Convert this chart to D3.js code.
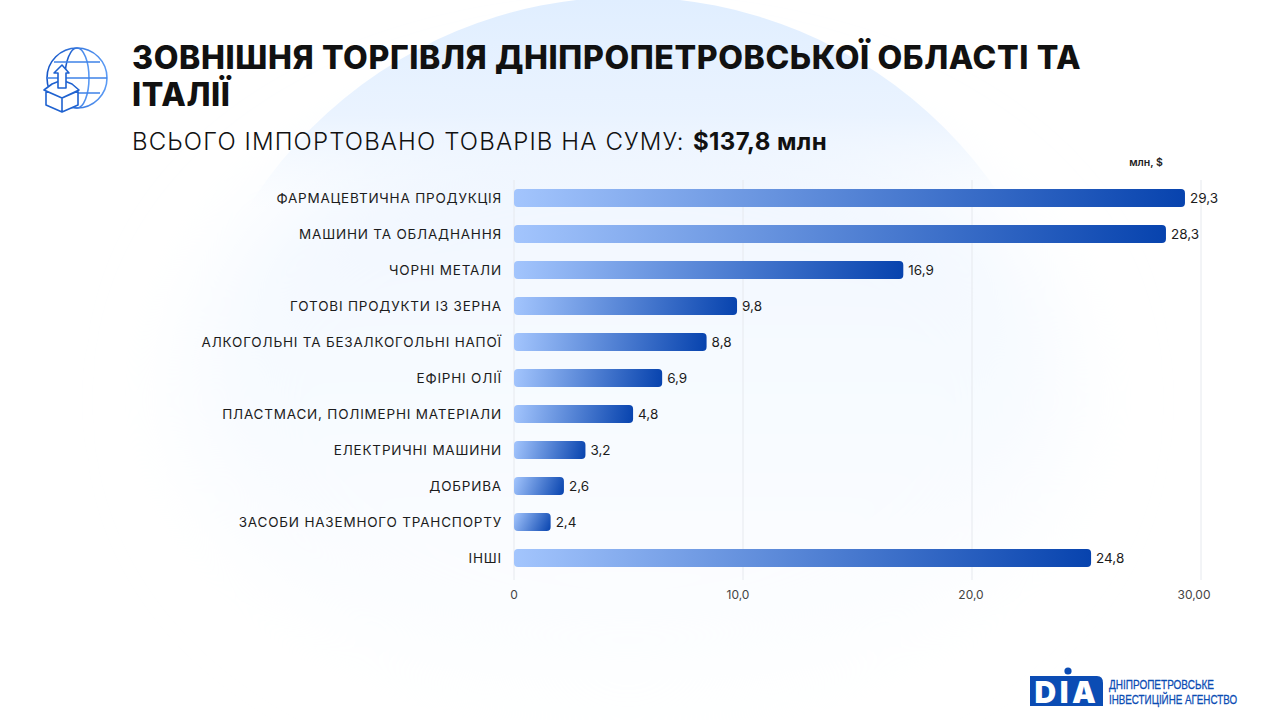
<!DOCTYPE html>
<html lang="uk">
<head>
  <meta charset="UTF-8">
  <title>Зовнішня торгівля</title>
  <script src="https://d3js.org/d3.v7.min.js"></script>
  <style>
    html, body { margin: 0; padding: 0; background: #fff; }
    svg { display: block; font-family: Inter, "Open Sans", sans-serif; }
  </style>
</head>
<body>
<div id="chart"></div>
<script>
  const categories = [
    "ФАРМАЦЕВТИЧНА ПРОДУКЦІЯ", "МАШИНИ ТА ОБЛАДНАННЯ", "ЧОРНІ МЕТАЛИ",
    "ГОТОВІ ПРОДУКТИ ІЗ ЗЕРНА", "АЛКОГОЛЬНІ ТА БЕЗАЛКОГОЛЬНІ НАПОЇ", "ЕФІРНІ ОЛІЇ",
    "ПЛАСТМАСИ, ПОЛІМЕРНІ МАТЕРІАЛИ", "ЕЛЕКТРИЧНІ МАШИНИ", "ДОБРИВА",
    "ЗАСОБИ НАЗЕМНОГО ТРАНСПОРТУ", "ІНШІ"
  ];
  // bar lengths; in the reference they differ a bit from the printed labels
  const barLengths = [29.3, 28.47, 17.0, 9.74, 8.41, 6.47, 5.2, 3.12, 2.18, 1.6, 25.2];
  const valueLabels = ["29,3", "28,3", "16,9", "9,8", "8,8", "6,9", "4,8", "3,2", "2,6", "2,4", "24,8"];
  const tickValues = [0, 10, 20, 30];
  const tickLabels = ["0", "10,0", "20,0", "30,00"];

  const svg = d3.select("#chart").append("svg")
    .attr("width", 1280).attr("height", 720);
  const defs = svg.append("defs");

  // background blob: soft wide glow plus a crisp top that fades out going down
  const blur = defs.append("filter").attr("id", "soft")
    .attr("x", "-30%").attr("y", "-30%").attr("width", "160%").attr("height", "160%");
  blur.append("feGaussianBlur").attr("stdDeviation", 45);
  const bg = defs.append("linearGradient").attr("id", "bg")
    .attr("gradientUnits", "userSpaceOnUse")
    .attr("x1", 0).attr("y1", 0).attr("x2", 0).attr("y2", 210);
  bg.append("stop").attr("offset", "0").attr("stop-color", "#e0eeff").attr("stop-opacity", 1);
  bg.append("stop").attr("offset", "0.55").attr("stop-color", "#e8f2ff").attr("stop-opacity", 0.9);
  bg.append("stop").attr("offset", "1").attr("stop-color", "#f1f7ff").attr("stop-opacity", 0);
  const glow = defs.append("linearGradient").attr("id", "glow")
    .attr("gradientUnits", "userSpaceOnUse")
    .attr("x1", 0).attr("y1", 100).attr("x2", 0).attr("y2", 680);
  glow.append("stop").attr("offset", "0").attr("stop-color", "#eef5ff");
  glow.append("stop").attr("offset", "0.45").attr("stop-color", "#f6faff");
  glow.append("stop").attr("offset", "1").attr("stop-color", "#fdfeff");
  svg.append("ellipse").attr("cx", 628).attr("cy", 400).attr("rx", 440).attr("ry", 300)
    .attr("fill", "url(#glow)").attr("filter", "url(#soft)");
  svg.append("circle").attr("cx", 628).attr("cy", 445).attr("r", 448)
    .attr("fill", "url(#bg)");

  const x = d3.scaleLinear().domain([0, 30]).range([514, 1201]);
  const y = d3.scaleBand().domain(categories).range([180, 576])
    .paddingInner(0.5).paddingOuter(0.25);

  // gridlines
  svg.append("g").selectAll("line").data(tickValues).join("line")
    .attr("x1", d => x(d)).attr("x2", d => x(d))
    .attr("y1", 180).attr("y2", 580)
    .attr("stroke", "#e6e9ee").attr("stroke-width", 1);

  // one gradient per bar, tilted so short bars show the diagonal like the reference
  categories.forEach((c, i) => {
    const g = defs.append("linearGradient").attr("id", "bar" + i)
      .attr("gradientUnits", "userSpaceOnUse")
      .attr("x1", x(0)).attr("y1", y(c))
      .attr("x2", x(barLengths[i])).attr("y2", y(c) + y.bandwidth());
    g.append("stop").attr("offset", "0").attr("stop-color", "#a3c5fd");
    g.append("stop").attr("offset", "1").attr("stop-color", "#0743ae");
  });

  svg.append("g").selectAll("rect").data(barLengths).join("rect")
    .attr("x", x(0))
    .attr("y", (d, i) => y(categories[i]))
    .attr("width", d => x(d) - x(0))
    .attr("height", y.bandwidth())
    .attr("rx", 4)
    .attr("fill", (d, i) => `url(#bar${i})`);

  svg.append("g").selectAll("text").data(barLengths).join("text")
    .attr("x", d => x(d) + 5)
    .attr("y", (d, i) => y(categories[i]) + y.bandwidth() / 2)
    .attr("dy", "0.35em")
    .attr("font-size", 13.5).attr("fill", "#1c1c1c")
    .text((d, i) => valueLabels[i]);

  svg.append("g").selectAll("text").data(categories).join("text")
    .attr("x", 502)
    .attr("y", d => y(d) + y.bandwidth() / 2)
    .attr("dy", "0.35em")
    .attr("text-anchor", "end")
    .attr("font-size", 13.5).attr("letter-spacing", 0.8).attr("fill", "#1c1c1c")
    .text(d => d);

  // the labels in the reference are not quite centred on their gridlines
  const tickNudge = [0, -5, -1, -7];
  svg.append("g").selectAll("text").data(tickValues).join("text")
    .attr("x", (d, i) => x(d) + tickNudge[i])
    .attr("y", 599)
    .attr("text-anchor", "middle")
    .attr("font-size", 12).attr("fill", "#444")
    .text((d, i) => tickLabels[i]);

  svg.append("text").attr("x", 1146).attr("y", 166).attr("text-anchor", "middle")
    .attr("font-size", 10.5).attr("font-weight", 600).attr("fill", "#222").text("млн, $");

  // headings
  const title = svg.append("g").attr("font-weight", 800).attr("font-size", 32)
    .attr("letter-spacing", 0.62).attr("fill", "#111");
  title.append("text").attr("x", 132).attr("y", 69).text("ЗОВНІШНЯ ТОРГІВЛЯ ДНІПРОПЕТРОВСЬКОЇ ОБЛАСТІ ТА");
  title.append("text").attr("x", 132).attr("y", 106).text("ІТАЛІЇ");

  svg.append("text").attr("x", 132).attr("y", 150)
    .attr("font-size", 24).attr("font-weight", 300).attr("letter-spacing", 1.12).attr("fill", "#111")
    .text("ВСЬОГО ІМПОРТОВАНО ТОВАРІВ НА СУМУ:");
  svg.append("text").attr("x", 693).attr("y", 150)
    .attr("font-size", 24).attr("font-weight", 700).attr("letter-spacing", 0.4).attr("fill", "#111")
    .text("$137,8 млн");

  // globe and box icon
  const iconGrad = defs.append("linearGradient").attr("id", "icon");
  iconGrad.append("stop").attr("offset", "0").attr("stop-color", "#1657c8");
  iconGrad.append("stop").attr("offset", "1").attr("stop-color", "#5b9bf5");
  const icon = svg.append("g").attr("fill", "none").attr("stroke", "url(#icon)")
    .attr("stroke-width", 1.6).attr("stroke-linejoin", "round");
  icon.append("circle").attr("cx", 77).attr("cy", 78).attr("r", 30);
  icon.append("ellipse").attr("cx", 77).attr("cy", 78).attr("rx", 12).attr("ry", 30);
  icon.append("path").attr("stroke", "#3f82e8").attr("d", "M54 62 H100 M47 78 H107 M54 93 H100");
  // box, filled white so the globe does not show through
  const boxStroke = "#1f62d0";
  icon.append("path").attr("fill", "#fff").attr("stroke", boxStroke)
    .attr("d", "M44 90 L52 84 L62 80 L72 84 L79 90 L62 98 Z M46 91 V105 L62 112 L78 105 V91 L62 98 L46 91 M62 98 V112");
  icon.append("path").attr("fill", "#fff").attr("stroke", boxStroke)
    .attr("d", "M62 65 L69 73 H66 V88 H58 V73 H54 Z");

  // logo
  const logo = svg.append("g");
  logo.append("path").attr("fill", "#0b4cb4")
    .attr("d", "M1030 676 H1097 Q1103 676 1103 683 V706 H1030 Z");
  logo.append("circle").attr("cx", 1068).attr("cy", 671).attr("r", 3.6).attr("fill", "#0b4cb4");
  logo.append("text").attr("x", 1067).attr("y", 703).attr("text-anchor", "middle")
    .attr("font-size", 30).attr("font-weight", 900).attr("fill", "#fff").attr("letter-spacing", 3.5)
    .text("DIA");
  // squeeze the two narrow lines to their measured widths
  [["ДНІПРОПЕТРОВСЬКЕ", 688.5, 105], ["ІНВЕСТИЦІЙНЕ АГЕНСТВО", 704, 128]].forEach(([s, yy, w]) => {
    const t = logo.append("text")
      .attr("font-family", "'Liberation Sans Narrow', 'Liberation Sans'")
      .attr("font-size", 13.4).attr("fill", "#0b4cb4").attr("stroke", "#0b4cb4").attr("stroke-width", 0.3)
      .text(s);
    const k = w / t.node().getComputedTextLength();
    t.attr("transform", `translate(1109,${yy}) scale(${k},1)`);
  });
</script>
</body>
</html>
